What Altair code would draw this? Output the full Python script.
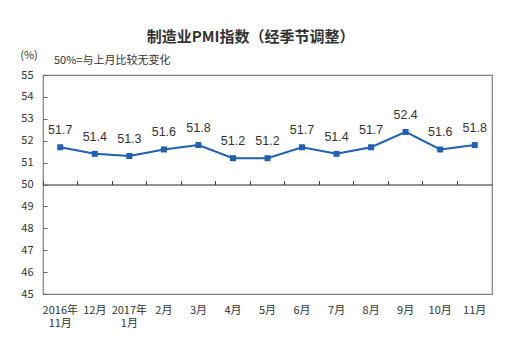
import altair as alt
import pandas as pd

months = ["2016年|11月", "12月", "2017年|1月", "2月", "3月", "4月", "5月",
          "6月", "7月", "8月", "9月", "10月", "11月"]
pmi = [51.7, 51.4, 51.3, 51.6, 51.8, 51.2, 51.2, 51.7, 51.4, 51.7, 52.4, 51.6, 51.8]
y_ticks = [45, 46, 47, 48, 49, 50, 51, 52, 53, 54, 55]

title_text = "制造业PMI指数（经季节调整）"
unit_text = "(%)"
note_text = "50%=与上月比较无变化"

df = pd.DataFrame({"m": months, "v": pmi})

W, H = 449, 219
BLUE = "#1f5fb4"
CJK = "Noto Sans CJK SC"

xscale = alt.Scale(type="band", paddingInner=0, paddingOuter=0)
yscale = alt.Scale(domain=[45, 55], nice=False, zero=False)

base = alt.Chart(df)

line = base.mark_line(color=BLUE, strokeWidth=2).encode(
    x=alt.X("m:N", sort=months, scale=xscale, title=None,
            axis=alt.Axis(orient="bottom", domain=False, ticks=False,
                          labelAngle=0, labelPadding=10, labelFont=CJK,
                          labelFontSize=11, labelColor="#333",
                          labelLineHeight=13, labelBaseline="top",
                          labelExpr="split(datum.label, '|')")),
    y=alt.Y("v:Q", scale=yscale, title=None,
            axis=alt.Axis(orient="left", values=y_ticks, domain=False,
                          ticks=False, grid=False, labelPadding=10,
                          labelFont=CJK, labelFontSize=11, labelColor="#333")),
)

pts = base.mark_square(size=36, color=BLUE, opacity=1).encode(
    x=alt.X("m:N", sort=months, scale=xscale, title=None,
            axis=alt.Axis(orient="top", offset=-(H / 2), labels=False,
                          domain=True, domainColor="#222", domainWidth=1.2,
                          ticks=True, tickSize=4, tickColor="#444",
                          bandPosition=0)),
    y=alt.Y("v:Q", scale=yscale, title=None,
            axis=alt.Axis(orient="right", offset=-W, values=y_ticks,
                          labels=False, domain=False, ticks=True, tickSize=4,
                          tickColor="#666", grid=False)),
)

labels = base.mark_text(dy=-17, font="Liberation Sans", fontSize=12.5,
                        color="#333").encode(
    x=alt.X("m:N", sort=months, scale=xscale, axis=None),
    y=alt.Y("v:Q", scale=yscale, axis=None),
    text=alt.Text("v:Q", format=".1f"),
)

unit = alt.Chart(pd.DataFrame({"t": [unit_text]})).mark_text(
    font=CJK, fontSize=11, color="#333", align="center", baseline="middle"
).encode(x=alt.value(-14), y=alt.value(-19), text="t:N")

note = alt.Chart(pd.DataFrame({"t": [note_text]})).mark_text(
    font=CJK, fontSize=11, color="#333", align="left", baseline="middle"
).encode(x=alt.value(11), y=alt.value(-14), text="t:N")

chart = alt.layer(line, pts, labels, unit, note).resolve_axis(
    x="independent", y="independent"
).properties(
    width=W, height=H,
    title=alt.Title(title_text, font=CJK, fontSize=15, fontWeight="bold",
                    color="#333", anchor="middle", frame="group", dx=-17,
                    offset=5),
    autosize=alt.AutoSizeParams(type="none"),
    padding={"left": 43, "top": 75, "right": 38, "bottom": 52},
    background="white",
).configure_view(stroke="#7f7f7f", strokeWidth=1.2)

chart.save("out.html", embed_options={"renderer": "svg", "actions": False})
